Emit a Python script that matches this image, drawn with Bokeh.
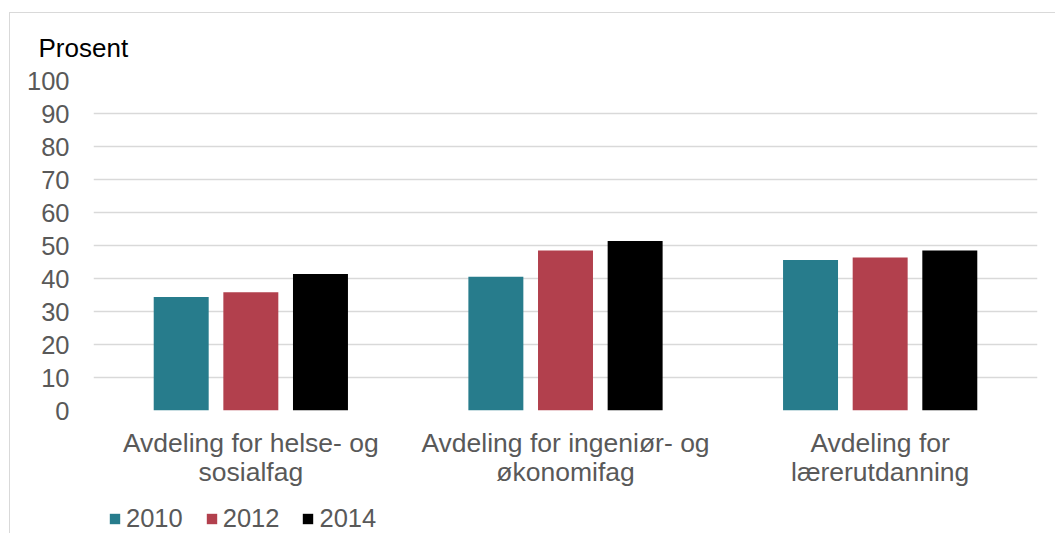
from bokeh.plotting import figure
from bokeh.models import FactorRange, Range1d, FixedTicker, ColumnDataSource, Legend, LegendItem
from bokeh.layouts import column
from bokeh.transform import dodge
from bokeh.embed import file_html
from bokeh.resources import INLINE

categories = ["Avdeling for helse- og\nsosialfag",
              "Avdeling for ingeniør- og\nøkonomifag",
              "Avdeling for\nlærerutdanning"]
years = ["2010", "2012", "2014"]
v2010 = [34.4, 40.5, 45.6]
v2012 = [35.8, 48.5, 46.4]
v2014 = [41.4, 51.4, 48.5]
y_ticks = [0, 10, 20, 30, 40, 50, 60, 70, 80, 90, 100]

colors = ["#277C8C", "#B2404D", "#000000"]
offsets = [-0.2213, 0.0, 0.2213]
FONT = "Liberation Sans"

src = ColumnDataSource(dict(cat=categories, y2010=v2010, y2012=v2012, y2014=v2014))

# main chart
p = figure(x_range=FactorRange(factors=categories, range_padding=0),
           y_range=Range1d(0, 100),
           width=1045, height=485, output_backend="svg", toolbar_location=None,
           min_border_left=83, min_border_right=18, min_border_top=66, min_border_bottom=88)

for yr, col, off in zip(years, colors, offsets):
    p.vbar(x=dodge("cat", off, range=p.x_range), top="y" + yr, width=0.1747,
           source=src, fill_color=col, line_color=None)

p.outline_line_color = None
p.background_fill_color = "white"
p.border_fill_color = "white"
p.xgrid.grid_line_color = None
p.ygrid.grid_line_color = "#D9D9D9"
p.ygrid.grid_line_width = 1.3

p.yaxis.ticker = FixedTicker(ticks=y_ticks)
p.yaxis.axis_line_color = None
p.yaxis.major_tick_line_color = None
p.yaxis.minor_tick_line_color = None
p.yaxis.major_label_text_font = FONT
p.yaxis.major_label_text_font_size = "25.5px"
p.yaxis.major_label_text_color = "#595959"
p.yaxis.major_label_standoff = 18

p.xaxis.axis_line_color = None
p.xaxis.major_tick_line_color = None
p.xaxis.minor_tick_line_color = None
p.xaxis.major_label_text_font = FONT
p.xaxis.major_label_text_font_size = "26.5px"
p.xaxis.major_label_text_color = "#595959"
p.xaxis.major_label_text_line_height = 0.97
p.xaxis.major_label_standoff = 11

p.title.text = "Prosent"
p.title.align = "left"
p.title.offset = -55
p.title.text_font = FONT
p.title.text_font_size = "26px"
p.title.text_font_style = "normal"
p.title.text_color = "black"
p.title.standoff = 35

# legend strip
pl = figure(x_range=FactorRange(factors=categories, range_padding=0),
            y_range=Range1d(1000, 1001),
            width=1045, height=35, output_backend="svg", toolbar_location=None,
            x_axis_location=None, y_axis_location=None, min_border=0)
pl.outline_line_color = None
pl.xgrid.grid_line_color = None
pl.ygrid.grid_line_color = None
items = []
for yr, col, off in zip(years, colors, offsets):
    r = pl.vbar(x=dodge("cat", off, range=pl.x_range), top="y" + yr, width=0.1747,
                source=src, fill_color=col, line_color=None)
    items.append(LegendItem(label=yr, renderers=[r]))

lg = Legend(items=items, orientation="horizontal", location=(15, 0))
lg.border_line_color = None
lg.background_fill_alpha = 0
lg.padding = 0
lg.margin = 0
lg.spacing = 22
lg.label_standoff = 5
lg.glyph_width = 13
lg.glyph_height = 13
lg.label_text_font = FONT
lg.label_text_font_size = "25.5px"
lg.label_text_color = "#595959"
pl.add_layout(lg, "center")

layout = column(p, pl, spacing=0)
layout.margin = (12, 0, 0, 9)
layout.styles = {"border-top": "1px solid #d9d9d9", "border-left": "1px solid #d9d9d9"}

open("out.html", "w").write(file_html(layout, INLINE))
